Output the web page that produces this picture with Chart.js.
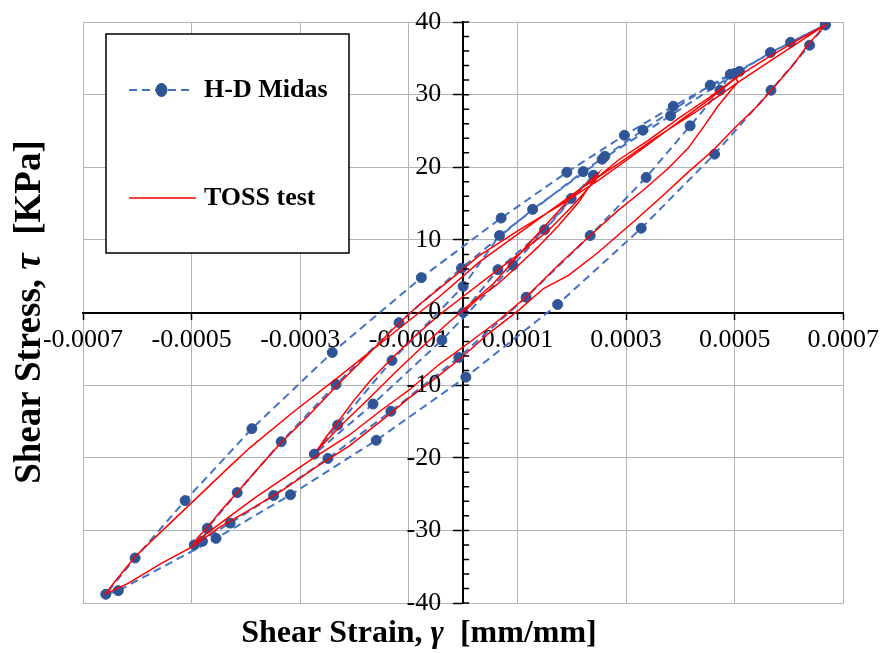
<!DOCTYPE html>
<html>
<head>
<meta charset="utf-8">
<script src="https://cdn.jsdelivr.net/npm/chart.js@4.4.1/dist/chart.umd.min.js"></script>
<style>
  html, body { margin: 0; padding: 0; background: #fff; }
</style>
</head>
<body>
<canvas id="hysteresis" width="885" height="653"></canvas>
<script>
// axis ticks
const xTicks = [-0.0007, -0.0005, -0.0003, -0.0001, 0.0001, 0.0003, 0.0005, 0.0007];
const yTicks = [-40, -30, -20, -10, 0, 10, 20, 30, 40];

// H-D Midas model, points in loading order (strain [mm/mm], stress [kPa])
const midasStrain = [
  0, 0.64e-4, 1.50e-4, 1.99e-4, 2.40e-4,
  0.92e-4, -0.39e-4, -1.66e-4, -2.74e-4,
  -2.31e-4, -1.31e-4, 0, 0.67e-4, 2.21e-4,
  2.61e-4, 3.31e-4, 4.55e-4, 4.92e-4,
  4.73e-4, 4.18e-4, 3.37e-4, 2.34e-4, 1.16e-4, -0.08e-4, -1.33e-4, -2.49e-4, -3.49e-4, -4.29e-4, -4.95e-4,
  -4.80e-4, -4.71e-4, -4.16e-4, -3.35e-4, -2.34e-4, -1.18e-4, -0.03e-4, 1.28e-4, 2.56e-4, 3.82e-4, 5.00e-4,
  5.09e-4, 5.66e-4, 6.67e-4,
  6.38e-4, 5.67e-4, 4.63e-4, 3.28e-4, 1.74e-4, 0.05e-4, -1.60e-4, -3.18e-4, -4.55e-4, -6.35e-4, -6.58e-4,
  -6.04e-4, -5.12e-4, -3.89e-4, -2.41e-4, -0.77e-4, 0.70e-4, 1.91e-4, 2.97e-4, 3.87e-4, 6.03e-4, 6.67e-4
];
const midasStress = [
  0, 5.9, 11.4, 15.7, 18.9,
  6.5, -3.8, -12.6, -19.5,
  -15.5, -6.6, 3.6, 10.6, 19.4,
  21.5, 25.1, 31.3, 32.8,
  30.6, 25.7, 18.6, 10.6, 2.1, -6.2, -13.6, -20.1, -25.2, -29.0, -32.0,
  -31.5, -29.7, -24.8, -17.8, -9.9, -1.4, 6.1, 14.2, 21.1, 27.1, 32.9,
  33.2, 35.8, 39.6,
  36.8, 30.6, 21.8, 11.6, 1.1, -8.9, -17.6, -25.1, -31.1, -38.3, -38.8,
  -33.8, -25.9, -16.0, -5.5, 4.8, 13.0, 19.3, 24.4, 28.4, 37.2, 39.6
];

// TOSS test record (strain [mm/mm], stress [kPa])
const tossStrain = [
  0, 0.29e-4, 0.65e-4, 1.02e-4, 1.39e-4, 1.75e-4, 2.12e-4, 2.49e-4,
  2.30e-4, 1.94e-4, 1.48e-4, 1.02e-4, 0.56e-4, 0.10e-4, -0.36e-4, -0.82e-4, -1.27e-4, -1.73e-4, -2.19e-4, -2.69e-4,
  -2.52e-4, -2.28e-4, -2.01e-4, -1.70e-4, -1.31e-4, -0.91e-4, -0.45e-4, 0, 0.47e-4, 1.02e-4, 1.57e-4, 2.03e-4, 2.49e-4,
  2.86e-4, 3.41e-4, 3.96e-4, 4.51e-4, 5.02e-4,
  5.06e-4, 4.93e-4, 4.69e-4, 4.45e-4, 4.14e-4, 3.77e-4, 3.31e-4, 2.86e-4, 2.34e-4, 1.75e-4, 1.17e-4, 0.65e-4,
  0.10e-4, -0.45e-4, -1.00e-4, -1.55e-4, -2.10e-4, -2.69e-4, -3.30e-4, -3.85e-4, -4.34e-4, -4.77e-4, -4.95e-4,
  -4.89e-4, -4.71e-4, -4.45e-4, -4.16e-4, -3.85e-4, -3.35e-4, -2.87e-4, -2.34e-4, -1.86e-4, -1.31e-4,
  -0.82e-4, -0.26e-4, 0.29e-4, 1.02e-4, 1.75e-4, 2.49e-4, 3.22e-4, 3.96e-4, 4.51e-4, 5.06e-4,
  5.61e-4, 6.16e-4, 6.67e-4,
  6.53e-4, 6.34e-4, 6.07e-4, 5.79e-4, 5.43e-4, 5.00e-4, 4.60e-4, 4.14e-4, 3.68e-4, 3.17e-4, 2.49e-4, 1.94e-4,
  1.48e-4, 1.02e-4, 0.47e-4, -0.03e-4, -0.50e-4, -1.00e-4, -1.37e-4, -2.10e-4, -2.71e-4, -3.33e-4, -3.94e-4,
  -4.49e-4, -4.95e-4, -5.55e-4, -6.17e-4, -6.58e-4,
  -6.47e-4, -6.05e-4, -5.55e-4, -5.07e-4, -4.34e-4, -3.94e-4, -3.11e-4, -2.28e-4, -1.18e-4, -0.45e-4,
  0.29e-4, 1.21e-4, 2.12e-4, 2.86e-4, 3.59e-4, 4.32e-4, 5.06e-4, 5.79e-4, 6.67e-4
];
const tossStress = [
  0, 2.0, 4.0, 6.5, 9.1, 11.9, 15.1, 19.2,
  17.9, 15.5, 11.7, 7.9, 4.0, 1.0, -2.0, -5.2, -8.4, -11.8, -15.1, -19.0,
  -17.1, -14.8, -12.1, -9.3, -6.3, -3.4, -0.4, 2.2, 4.9, 8.0, 11.3, 14.8, 18.7,
  21.0, 23.7, 26.7, 29.5, 32.3,
  31.7, 30.6, 28.4, 25.8, 22.6, 19.8, 16.8, 14.1, 10.6, 6.5, 2.2, -1.1,
  -4.2, -7.2, -10.7, -13.7, -16.9, -19.7, -22.8, -25.6, -28.3, -30.7, -31.8,
  -31.0, -29.6, -27.2, -24.8, -22.1, -17.9, -14.4, -10.2, -6.6, -2.4,
  1.0, 4.4, 7.8, 11.3, 14.6, 18.2, 22.1, 26.2, 29.2, 32.5,
  35.1, 37.5, 39.6,
  38.4, 36.8, 34.0, 31.6, 28.5, 25.4, 22.3, 19.3, 16.1, 12.7, 8.3, 5.1,
  3.3, 0.3, -2.9, -6.2, -9.0, -11.8, -14.1, -18.4, -21.3, -24.5, -27.2,
  -29.6, -32.1, -34.5, -37.3, -38.7,
  -37.6, -33.7, -30.1, -26.7, -21.5, -18.7, -13.6, -8.8, -2.2, 2.1,
  6.9, 11.9, 16.8, 20.5, 24.3, 27.8, 31.7, 35.3, 39.6
];

const SERIF = "'Liberation Serif', 'Times New Roman', serif";

const toPoints = (xs, ys) => xs.map((x, i) => ({ x: x, y: ys[i] }));

// draw a line of text made of parts (normal / italic greek) centred at (cx, cy)
function drawParts(ctx, parts, cx, cy) {
  let total = 0;
  parts.forEach(p => { ctx.font = p.font; p.w = ctx.measureText(p.text).width; total += p.w; });
  let x = cx - total / 2;
  ctx.textAlign = 'left';
  ctx.textBaseline = 'middle';
  parts.forEach(p => { ctx.font = p.font; ctx.fillText(p.text, x, cy); x += p.w; });
}

// y labels beside the centre axis, minor ticks, axis titles and the boxed legend
const decorPlugin = {
  id: 'decor',
  afterDraw(chart) {
    const { ctx, scales: { x, y } } = chart;
    const x0 = x.getPixelForValue(0);
    ctx.save();

    ctx.strokeStyle = '#000';
    ctx.lineWidth = 1.5;
    ctx.beginPath();
    for (let v = -40; v <= 40; v += 2) {
      const py = y.getPixelForValue(v);
      ctx.moveTo(x0, py);
      ctx.lineTo(x0 + 6, py);
    }
    ctx.stroke();

    ctx.fillStyle = '#000';
    ctx.font = '26px ' + SERIF;
    ctx.textAlign = 'right';
    ctx.textBaseline = 'middle';
    yTicks.forEach(v => ctx.fillText(String(v), x0 - 22, y.getPixelForValue(v)));

    const bold = 'bold 32px ' + SERIF;
    const boldIt = 'italic bold 32px ' + SERIF;
    drawParts(ctx, [
      { text: 'Shear Strain, ', font: bold },
      { text: 'γ', font: boldIt },
      { text: '  [mm/mm]', font: bold }
    ], 419, 634);

    const boldY = 'bold 37px ' + SERIF;
    const boldItY = 'italic bold 37px ' + SERIF;
    ctx.save();
    ctx.translate(30, 312);
    ctx.rotate(-Math.PI / 2);
    drawParts(ctx, [
      { text: 'Shear Stress, ', font: boldY },
      { text: 'τ', font: boldItY },
      { text: '  [KPa]', font: boldY }
    ], 0, 0);
    ctx.restore();

    // legend box
    ctx.fillStyle = '#fff';
    ctx.fillRect(106, 34, 243, 219);
    ctx.strokeStyle = '#000';
    ctx.lineWidth = 1.5;
    ctx.strokeRect(106, 34, 243, 219);

    const midas = chart.data.datasets[1];
    const toss = chart.data.datasets[0];

    ctx.strokeStyle = midas.borderColor;
    ctx.lineWidth = midas.borderWidth;
    ctx.setLineDash(midas.borderDash);
    ctx.beginPath();
    ctx.moveTo(129, 90);
    ctx.lineTo(193, 90);
    ctx.stroke();
    ctx.setLineDash([]);
    ctx.fillStyle = midas.pointBackgroundColor;
    ctx.beginPath();
    ctx.ellipse(161.5, 90, 5.5, 6.5, 0, 0, Math.PI * 2);
    ctx.fill();
    ctx.strokeStyle = '#2A4A80';
    ctx.lineWidth = 1;
    ctx.stroke();

    ctx.strokeStyle = toss.borderColor;
    ctx.lineWidth = toss.borderWidth;
    ctx.beginPath();
    ctx.moveTo(129, 198);
    ctx.lineTo(196, 198);
    ctx.stroke();

    ctx.fillStyle = '#000';
    ctx.font = 'bold 26px ' + SERIF;
    ctx.textAlign = 'left';
    ctx.textBaseline = 'middle';
    ctx.fillText(midas.label, 204, 90);
    ctx.fillText(toss.label, 204, 198);

    ctx.restore();
  }
};

new Chart(document.getElementById('hysteresis'), {
  type: 'scatter',
  data: {
    datasets: [
      {
        label: 'TOSS test',
        data: toPoints(tossStrain, tossStress),
        showLine: true,
        borderColor: '#FF0000',
        borderWidth: 1.5,
        pointRadius: 0,
        order: 0
      },
      {
        label: 'H-D Midas',
        data: toPoints(midasStrain, midasStress),
        showLine: true,
        borderColor: '#4472C4',
        borderWidth: 2,
        borderDash: [8, 5],
        pointRadius: 5,
        pointBackgroundColor: '#2F5597',
        pointBorderColor: '#2F5597',
        pointBorderWidth: 1,
        order: 1
      }
    ]
  },
  options: {
    responsive: false,
    animation: false,
    devicePixelRatio: 1,
    layout: { padding: { left: 83, top: 22, right: 39, bottom: 50 } },
    plugins: {
      legend: { display: false },
      tooltip: { enabled: false }
    },
    scales: {
      x: {
        type: 'linear',
        min: -0.0007,
        max: 0.0007,
        position: { y: 0 },
        afterBuildTicks: (scale) => { scale.ticks = xTicks.map(v => ({ value: v })); },
        grid: { color: '#B4B4B4', lineWidth: 1, tickColor: '#000', tickLength: 6, tickWidth: 1.5 },
        border: { color: '#000', width: 2 },
        ticks: {
          color: '#000',
          font: { family: SERIF, size: 26 },
          padding: 6,
          maxRotation: 0,
          autoSkip: false,
          callback: (v) => v.toFixed(4)
        }
      },
      y: {
        type: 'linear',
        min: -40,
        max: 40,
        position: { x: 0 },
        afterBuildTicks: (scale) => { scale.ticks = yTicks.map(v => ({ value: v })); },
        grid: { color: '#B4B4B4', lineWidth: 1, tickColor: '#000', tickLength: 9, tickWidth: 1.5 },
        border: { color: '#000', width: 2 },
        ticks: { display: false }
      }
    }
  },
  plugins: [decorPlugin]
});
</script>
</body>
</html>
